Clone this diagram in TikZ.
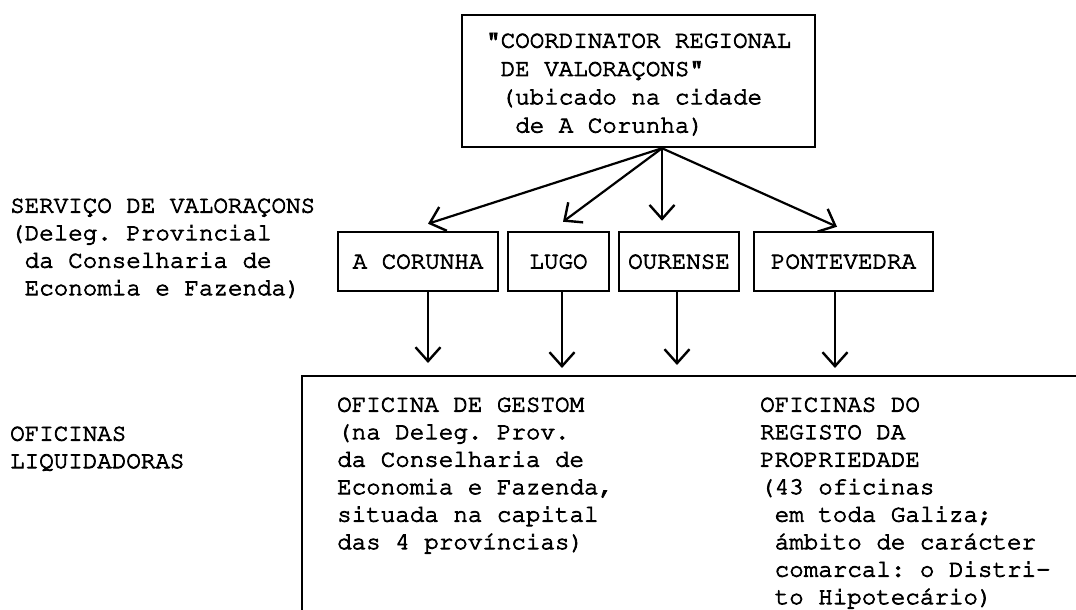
\documentclass[tikz,border=0pt]{standalone}
\usepackage[T1]{fontenc}
\usepackage{courier}
\usetikzlibrary{arrows.meta}
\newcommand\emb{\special{pdf:literal direct 2 Tr 0.8 w}}
\newcommand\twfont{\fontfamily{pcr}\fontsize{24.2}{27.5}\selectfont\frenchspacing\emb}
\newcommand\twtop{\fontfamily{pcr}\fontsize{24.2}{28.3}\selectfont\frenchspacing\emb}
\newcommand\lsp{\hphantom{x}}
\begin{document}
\begin{tikzpicture}[x=1pt,y=-1pt,
  txt/.style={font=\twfont, inner sep=0pt, anchor=north west, align=left},
  pbox/.style={draw, line width=2.5pt, font=\twfont, minimum height=59pt, inner sep=0pt},
  conn/.style={line width=2.2pt, -{Straight Barb[length=14pt,width=25pt,line width=2.4pt]}},
  bracket/.style={line width=2.6pt}
]
\useasboundingbox (0,0) rectangle (1076,610);

% top box
\node[draw, line width=2.5pt, minimum width=353pt, minimum height=132pt, inner sep=0pt] (top) at (638.5,81) {};
\node[txt, font=\twtop] (toptext) at (486,33) {"COORDINATOR REGIONAL\\\lsp DE VALORA\c{C}ONS"\\\lsp (ubicado na cidade\\\lsp\lsp de A Corunha)};

% province boxes
\node[pbox, minimum width=160pt] (acor) at (418,261.5) {A CORUNHA};
\node[pbox, minimum width=101pt] (lugo) at (558.5,261.5) {LUGO};
\node[pbox, minimum width=120pt] (our)  at (679,261.5) {OURENSE};
\node[pbox, minimum width=179pt] (pont) at (843.5,261.5) {PONTEVEDRA};

% top arrows
\coordinate (apex) at ([xshift=23.5pt]top.south);
\draw[conn] (apex) -- ([xshift=10pt,yshift=7pt]acor.north);
\draw[conn] (apex) -- ([xshift=4.5pt,yshift=9pt]lugo.north);
\draw[conn] (apex) -- ([xshift=-17pt,yshift=10pt]our.north);
\draw[conn] (apex) -- ([xshift=-6.5pt,yshift=4pt]pont.north);

% bracket
\coordinate (bk) at (302,376);
\coordinate (bkr) at (1076,376);
\coordinate (bkb) at (302,612);
\draw[bracket] (bkb) -- (bk) -- (bkr);

% bottom arrows
\coordinate (acorB) at ([xshift=10pt]acor.south);
\coordinate (lugoB) at ([xshift=3.5pt]lugo.south);
\coordinate (ourB)  at ([xshift=-2pt]our.south);
\coordinate (pontB) at ([xshift=-8.5pt]pont.south);
\draw[conn, shorten >=13pt] (acorB) -- (acorB |- bk);
\draw[conn, shorten >=8pt] (lugoB) -- (lugoB |- bk);
\draw[conn, shorten >=11pt] (ourB) -- (ourB |- bk);
\draw[conn, shorten >=8pt] (pontB) -- (pontB |- bk);

% left labels
\node[txt] (serv) at (10,198) {SERVI\c{C}O DE VALORA\c{C}ONS\\(Deleg. Provincial\\\lsp da Conselharia de\\\lsp Economia e Fazenda)};
\node[txt] (ofi) at (10,426) {OFICINAS\\LIQUIDADORAS};

% bottom texts
\node[txt] (gest) at (337,397) {OFICINA DE GESTOM\\(na Deleg. Prov.\\da Conselharia de\\Economia e Fazenda,\\situada na capital\\das 4 prov\'{\i}ncias)};
\node[txt] (reg) at (760,397) {OFICINAS DO\\REGISTO DA\\PROPRIEDADE\\(43 oficinas\\\lsp em toda Galiza;\\\lsp \'ambito de car\'acter\\\lsp comarcal: o Distri-\\\lsp to Hipotec\'ario)};
\end{tikzpicture}
\end{document}
